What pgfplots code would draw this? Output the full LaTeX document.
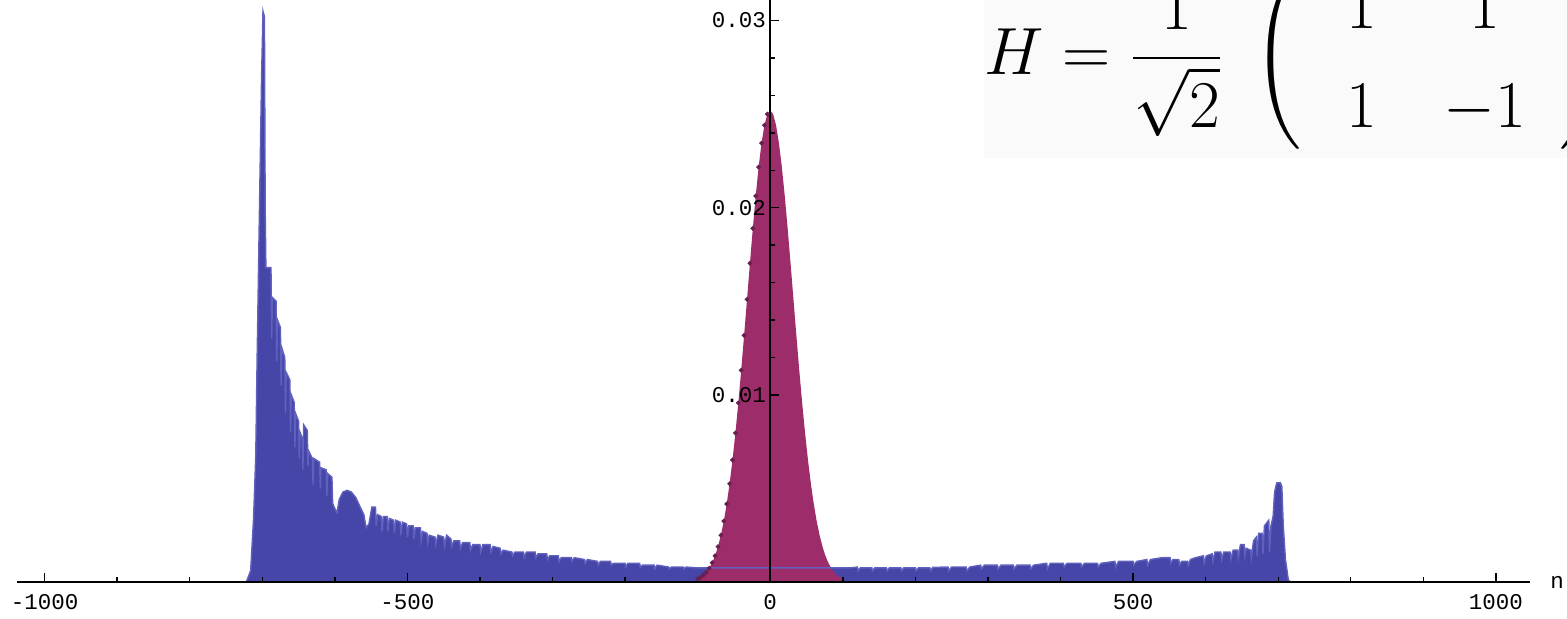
\RequirePackage{fix-cm}
\documentclass[border=0pt]{standalone}
\usepackage{fontspec}
\usepackage{amsmath}
\usepackage{pgfplots}
\usepackage{pgfplotstable}
\pgfplotsset{compat=1.18}
\newfontfamily\labfont{Liberation Mono}
\definecolor{qblue}{RGB}{70,70,168}
\definecolor{qline}{RGB}{96,96,190}
\definecolor{cred}{RGB}{156,44,106}
\definecolor{cdot}{RGB}{105,30,80}

% quantum walk, top outline
\pgfplotstableread{
x y
-722 0
-716 0.0006
-712 0.0034
-709 0.0067
-707 0.0122
-704 0.0196
-701 0.0269
-699 0.0305
-697 0.0302
-696 0.0200
-695 0.0168
-688 0.0168
-687 0.0130
-686 0.0152
-681 0.0150
-680 0.0118
-679 0.0140
-675 0.0136
-674 0.0105
-673 0.0125
-669 0.0120
-668 0.0090
-667 0.0112
-662 0.0108
-661 0.0080
-660 0.0100
-656 0.0096
-655 0.0072
-654 0.0090
-650 0.0086
-649 0.0066
-648 0.0080
-645 0.0077
-644 0.0060
-643 0.0084
-638 0.0081
-637 0.0062
-636 0.0070
-631 0.0066
-630 0.0052
-629 0.0066
-621 0.0064
-620 0.0050
-619 0.0061
-612 0.0060
-611 0.0046
-610 0.0058
-604 0.0056
-603 0.0042
-601 0.0040
-597 0.0037
-594 0.0044
-589 0.0048
-583 0.0049
-577 0.0048
-571 0.0045
-565 0.0040
-560 0.0036
-557 0.0029
-553 0.0031
-549 0.0040
-544 0.0040
-543 0.0030
-541 0.0036
-536 0.0035
-535 0.0027
-533 0.0035
-528 0.0035
-527 0.0027
-525 0.0034
-519 0.0033
-518 0.0026
-516 0.0033
-510 0.0032
-509 0.0025
-507 0.0032
-501 0.0031
-500 0.0024
-498 0.0030
-492 0.0030
-491 0.0023
-489 0.0029
-482 0.0029
-481 0.0022
-479 0.0027
-473 0.0026
-472 0.0021
-470 0.0025
-462 0.0024
-461 0.0020
-458 0.0025
-450 0.0024
-449 0.0019
-446 0.0025
-440 0.0023
-439 0.0019
-436 0.0022
-428 0.0022
-427 0.0018
-424 0.0021
-414 0.0021
-413 0.0017
-410 0.0020
-400 0.0020
-399 0.0016
-396 0.0020
-386 0.0020
-385 0.0016
-382 0.0019
-372 0.0018
-371 0.0015
-368 0.0017
-356 0.0016
-355 0.0014
-352 0.0016
-340 0.0016
-339 0.0013
-336 0.0016
-324 0.0016
-323 0.0013
-320 0.0015
-308 0.0015
-307 0.0012
-304 0.0014
-292 0.0014
-291 0.0011
-288 0.0013
-274 0.0013
-273 0.0011
-270 0.0013
-256 0.0012
-255 0.0010
-252 0.0012
-238 0.0011
-237 0.0009
-234 0.0011
-220 0.0011
-219 0.0009
-216 0.0010
-200 0.0010
-199 0.0008
-196 0.0010
-180 0.0010
-179 0.0008
-176 0.0009
-160 0.0009
-159 0.0007
-156 0.0009
-140 0.0008
-139 0.0007
-136 0.0008
-120 0.0008
-119 0.0007
-116 0.0008
-100 0.00075
100 0.00075
110 0.00075
120 0.0008
121 0.0006
124 0.00075
140 0.00075
141 0.0006
144 0.00075
160 0.00075
161 0.0006
164 0.00075
180 0.00075
181 0.0006
184 0.00075
200 0.00075
201 0.0006
204 0.00075
220 0.00075
221 0.0006
224 0.00078
245 0.0008
246 0.0006
250 0.0008
270 0.0008
271 0.0006
275 0.0008
290 0.0009
291 0.0007
295 0.0009
313 0.0009
314 0.0007
318 0.0009
335 0.0009
336 0.0007
340 0.0009
358 0.0009
359 0.0007
363 0.0009
381 0.0010
382 0.0007
386 0.0010
404 0.0010
405 0.0008
409 0.0010
428 0.0010
429 0.0008
433 0.0010
451 0.0010
452 0.0008
456 0.0010
475 0.0011
476 0.0008
480 0.0011
500 0.0011
501 0.0009
505 0.0011
519 0.0012
520 0.0009
524 0.0012
540 0.0013
551 0.0013
552 0.0010
555 0.0012
563 0.0012
564 0.0009
567 0.0011
575 0.0011
576 0.0009
579 0.0012
586 0.0013
597 0.0014
598 0.0010
601 0.0014
609 0.0015
610 0.0011
613 0.0016
621 0.0016
622 0.0012
625 0.0016
634 0.0016
635 0.0012
638 0.0017
644 0.0017
645 0.0013
648 0.0020
653 0.0020
654 0.0014
656 0.0018
662 0.0017
663 0.0013
666 0.0022
670 0.0024
671 0.0014
673 0.0026
678 0.0026
679 0.0015
681 0.0030
687 0.0033
688 0.0016
690 0.0030
693 0.0035
695 0.0048
698 0.0053
703 0.0053
705 0.0051
707 0.0030
710 0.0012
714 0.0001
717 0
}\quantum

% classical walk
\pgfplotstableread{
x y
-100 0.00017
-96 0.00025
-92 0.00037
-88 0.00052
-84 0.00074
-80 0.00103
-76 0.00140
-72 0.00189
-68 0.00250
-64 0.00325
-60 0.00417
-56 0.00525
-52 0.00652
-48 0.00796
-44 0.00957
-40 0.01132
-36 0.01318
-32 0.01510
-28 0.01703
-24 0.01889
-20 0.02063
-16 0.02217
-12 0.02345
-8 0.02441
-4 0.02500
0 0.02520
4 0.02500
8 0.02441
12 0.02345
16 0.02217
20 0.02063
24 0.01889
28 0.01703
32 0.01510
36 0.01318
40 0.01132
44 0.00957
48 0.00796
52 0.00652
56 0.00525
60 0.00417
64 0.00325
68 0.00250
72 0.00189
76 0.00140
80 0.00103
84 0.00074
88 0.00052
92 0.00037
96 0.00025
100 0.00017
}\classical

\begin{document}
\begin{tikzpicture}
\begin{axis}[
  scale only axis,
  width=151.3mm, height=58.2mm,
  xmin=-1038, xmax=1047,
  ymin=0, ymax=0.0311,
  axis lines=middle,
  axis on top,
  axis line style={-, line width=0.5pt},
  xtick={-1000,-500,0,500,1000},
  xticklabels={-1000,-500,0,500,1000},
  hide obscured x ticks=false,
  ytick={0.01,0.02,0.03},
  yticklabels={0.01,0.02,0.03},
  minor x tick num=4, minor y tick num=4,
  tick align=inside,
  major tick length=0.9mm, minor tick length=0.5mm,
  tick style={black, line width=0.4pt},
  ticklabel style={font=\labfont\fontsize{6.4}{7}\selectfont},
  yticklabel style={xshift=0.8mm},
  xlabel={n},
  xlabel style={font=\labfont\fontsize{6.4}{7}\selectfont, anchor=west, xshift=0.8mm},
  clip=false,
]
\addplot[fill=qblue, draw=none] table {\quantum} \closedcycle;
\addplot[fill=cred, draw=none] table {\classical} \closedcycle;
\addplot[only marks, mark=*, mark size=0.45pt, cdot, restrict x to domain=-100:-2] table {\classical};
\addplot[qline, line width=0.4pt] table {\quantum};
\end{axis}
\coordinate (BL) at ([shift={(-1.7mm,-3.7mm)}]current axis.south west);
\coordinate (TL) at ([shift={(0mm,61.9mm)}]BL);
\coordinate (TR) at ([shift={(156.7mm,61.9mm)}]BL);
\pgfresetboundingbox
\path[use as bounding box] (BL) rectangle (TR);
\fill[black!2] ([shift={(98.4mm,0mm)}]TL) rectangle ([shift={(160mm,-15.8mm)}]TL);
\node[anchor=base west, inner sep=0pt] at ([shift={(98.4mm,-7.5mm)}]TL)
  {\fontsize{19}{23}\selectfont$\displaystyle H = \frac{1}{\sqrt{2}}\hspace{1.8mm}\left(\hspace{1.2mm}\arraycolsep=9.5pt\def\arraystretch{1.22}\begin{array}{cc}1&1\\1&-1\end{array}\right)$};
\end{tikzpicture}
\end{document}
